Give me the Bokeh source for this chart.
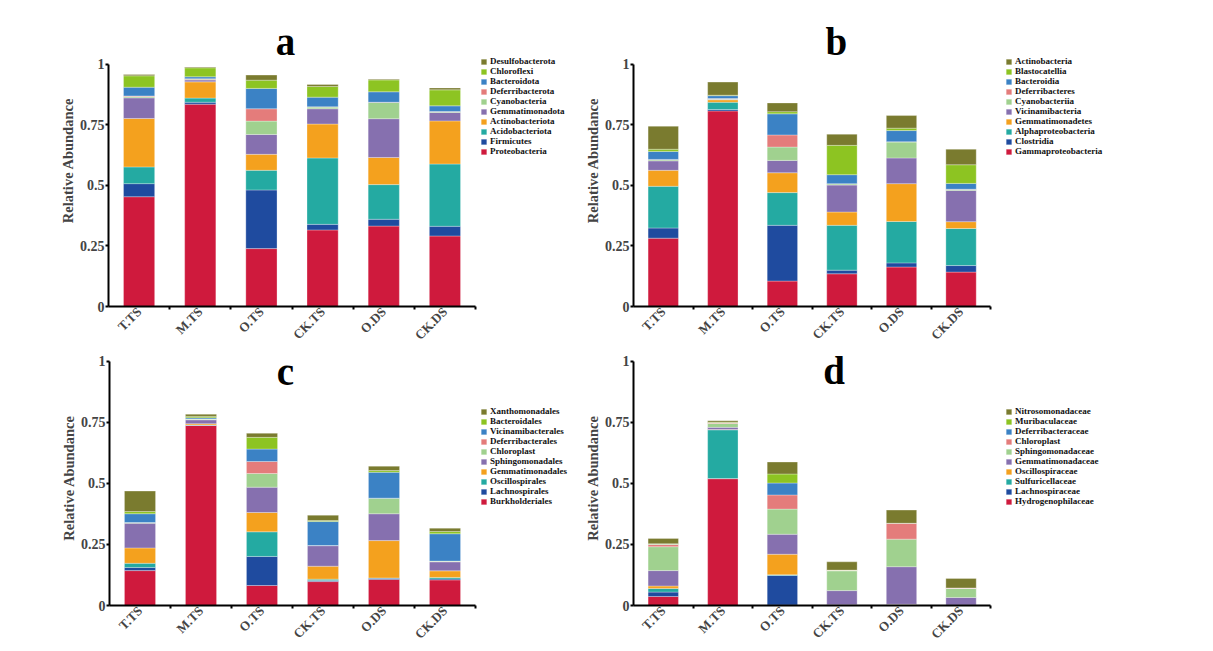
from math import pi
from bokeh.plotting import figure
from bokeh.models import (ColumnDataSource, Range1d, FixedTicker,
                          Legend, LegendItem, Label)
from bokeh.layouts import column, row
from bokeh.embed import file_html
from bokeh.resources import INLINE

samples = ["T.TS", "M.TS", "O.TS", "CK.TS", "O.DS", "CK.DS"]

colors = ["#CF1A3D", "#1F4B9F", "#24AAA2", "#F4A11E", "#8670AF",
          "#A0D18F", "#E47C7B", "#3B82C5", "#8DC422", "#7A7B2F"]

# ---- panel a : phylum (bottom -> top) ----
taxa_a = ["Proteobacteria", "Firmicutes", "Acidobacteriota", "Actinobacteriota",
          "Gemmatimonadota", "Cyanobacteria", "Deferribacterota", "Bacteroidota",
          "Chloroflexi", "Desulfobacterota"]
Proteobacteria = [0.453, 0.835, 0.239, 0.316, 0.332, 0.291]
Firmicutes = [0.054, 0.008, 0.242, 0.023, 0.028, 0.040]
Acidobacteriota = [0.069, 0.017, 0.081, 0.274, 0.143, 0.257]
Actinobacteriota = [0.200, 0.067, 0.066, 0.140, 0.112, 0.178]
Gemmatimonadota = [0.085, 0.008, 0.082, 0.063, 0.160, 0.035]
Cyanobacteria = [0.006, 0.003, 0.055, 0.007, 0.067, 0.003]
Deferribacterota = [0.002, 0.002, 0.051, 0.001, 0.001, 0.001]
Bacteroidota = [0.036, 0.008, 0.084, 0.040, 0.043, 0.023]
Chloroflexi = [0.047, 0.037, 0.034, 0.044, 0.049, 0.066]
Desulfobacterota = [0.005, 0.003, 0.021, 0.008, 0.003, 0.008]
values_a = [Proteobacteria, Firmicutes, Acidobacteriota, Actinobacteriota,
            Gemmatimonadota, Cyanobacteria, Deferribacterota, Bacteroidota,
            Chloroflexi, Desulfobacterota]

# ---- panel b : class ----
taxa_b = ["Gammaproteobacteria", "Clostridia", "Alphaproteobacteria", "Gemmatimonadetes",
          "Vicinamibacteria", "Cyanobacteriia", "Deferribacteres", "Bacteroidia",
          "Blastocatellia", "Actinobacteria"]
Gammaproteobacteria = [0.282, 0.807, 0.105, 0.135, 0.163, 0.142]
Clostridia = [0.042, 0.006, 0.230, 0.015, 0.017, 0.027]
Alphaproteobacteria = [0.172, 0.030, 0.135, 0.185, 0.171, 0.153]
Gemmatimonadetes = [0.066, 0.010, 0.082, 0.055, 0.156, 0.028]
Vicinamibacteria = [0.039, 0.002, 0.051, 0.111, 0.106, 0.129]
Cyanobacteriia = [0.005, 0.002, 0.055, 0.005, 0.066, 0.004]
Deferribacteres = [0.001, 0.001, 0.050, 0.001, 0.001, 0.001]
Bacteroidia = [0.033, 0.012, 0.087, 0.037, 0.046, 0.024]
Blastocatellia = [0.009, 0.002, 0.009, 0.121, 0.010, 0.077]
Actinobacteria = [0.095, 0.054, 0.036, 0.046, 0.052, 0.064]
values_b = [Gammaproteobacteria, Clostridia, Alphaproteobacteria, Gemmatimonadetes,
            Vicinamibacteria, Cyanobacteriia, Deferribacteres, Bacteroidia,
            Blastocatellia, Actinobacteria]

# ---- panel c : order ----
taxa_c = ["Burkholderiales", "Lachnospirales", "Oscillospirales", "Gemmatimonadales",
          "Sphingomonadales", "Chloroplast", "Deferribacterales", "Vicinamibacterales",
          "Bacteroidales", "Xanthomonadales"]
Burkholderiales = [0.143, 0.738, 0.082, 0.098, 0.107, 0.105]
Lachnospirales = [0.013, 0.001, 0.119, 0.004, 0.005, 0.004]
Oscillospirales = [0.017, 0.001, 0.101, 0.006, 0.001, 0.006]
Gemmatimonadales = [0.063, 0.005, 0.079, 0.053, 0.153, 0.027]
Sphingomonadales = [0.101, 0.016, 0.104, 0.084, 0.110, 0.037]
Chloroplast_c = [0.003, 0.003, 0.056, 0.001, 0.064, 0.003]
Deferribacterales = [0.000, 0.000, 0.049, 0.000, 0.000, 0.000]
Vicinamibacterales = [0.036, 0.005, 0.051, 0.098, 0.106, 0.112]
Bacteroidales = [0.009, 0.006, 0.048, 0.004, 0.007, 0.009]
Xanthomonadales = [0.084, 0.009, 0.017, 0.022, 0.018, 0.014]
values_c = [Burkholderiales, Lachnospirales, Oscillospirales, Gemmatimonadales,
            Sphingomonadales, Chloroplast_c, Deferribacterales, Vicinamibacterales,
            Bacteroidales, Xanthomonadales]

# ---- panel d : family ----
taxa_d = ["Hydrogenophilaceae", "Lachnospiraceae", "Sulfuricellaceae", "Oscillospiraceae",
          "Gemmatimonadaceae", "Sphingomonadaceae", "Chloroplast", "Deferribacteraceae",
          "Muribaculaceae", "Nitrosomonadaceae"]
Hydrogenophilaceae = [0.037, 0.520, 0.002, 0.001, 0.000, 0.000]
Lachnospiraceae = [0.018, 0.000, 0.121, 0.000, 0.004, 0.000]
Sulfuricellaceae = [0.015, 0.200, 0.003, 0.000, 0.000, 0.000]
Oscillospiraceae = [0.010, 0.001, 0.084, 0.002, 0.001, 0.002]
Gemmatimonadaceae = [0.063, 0.009, 0.082, 0.058, 0.154, 0.031]
Sphingomonadaceae = [0.098, 0.016, 0.103, 0.081, 0.113, 0.037]
Chloroplast_d = [0.009, 0.003, 0.058, 0.002, 0.065, 0.002]
Deferribacteraceae = [0.001, 0.000, 0.049, 0.000, 0.000, 0.000]
Muribaculaceae = [0.002, 0.002, 0.037, 0.001, 0.000, 0.000]
Nitrosomonadaceae = [0.022, 0.006, 0.049, 0.034, 0.054, 0.039]
values_d = [Hydrogenophilaceae, Lachnospiraceae, Sulfuricellaceae, Oscillospiraceae,
            Gemmatimonadaceae, Sphingomonadaceae, Chloroplast_d, Deferribacteraceae,
            Muribaculaceae, Nitrosomonadaceae]

y_ticks = [0, 0.25, 0.5, 0.75, 1]
y_tick_labels = {0: "0", 0.25: "0.25", 0.5: "0.5", 0.75: "0.75", 1: "1"}

FONT = "Liberation Serif"
N = len(samples)
centers = [i + 0.5 for i in range(N)]            # category centres on the x scale
bounds_ticks = [i + 1.0 for i in range(N)]       # category boundaries


def make_panel(letter, taxa, values, width, height, left, top, bottom,
               cat_px, y_end, title_pos, legend_pos):
    frame_w = width - left
    p = figure(x_range=Range1d(0, frame_w / cat_px), y_range=Range1d(0, y_end),
               width=width, height=height, output_backend="svg",
               toolbar_location=None, min_border_left=left, min_border_right=0,
               min_border_top=top, min_border_bottom=bottom)
    p.outline_line_color = None
    p.xgrid.visible = False
    p.ygrid.visible = False
    p.background_fill_color = "white"
    p.border_fill_color = "white"

    data = {"x": centers, "sample": samples}
    for t, v in zip(taxa, values):
        data[t] = v
    src = ColumnDataSource(data)
    rs = p.vbar_stack(taxa, x="x", width=0.51, color=colors, source=src,
                      line_color="white", line_width=0.6, line_alpha=0.5)

    items = [LegendItem(label=t, renderers=[r]) for t, r in zip(taxa, rs)][::-1]
    leg = Legend(items=items, location=legend_pos)
    leg.label_text_font = FONT
    leg.label_text_font_style = "bold"
    leg.label_text_font_size = "9px"
    leg.label_text_color = "#111111"
    leg.label_height = 8
    leg.label_standoff = 3
    leg.glyph_height = 7
    leg.glyph_width = 7
    leg.spacing = 0
    leg.padding = 2
    leg.margin = 0
    leg.border_line_color = None
    leg.background_fill_alpha = 0
    p.add_layout(leg)

    ya = p.yaxis[0]
    ya.bounds = (0, 1)
    ya.ticker = FixedTicker(ticks=y_ticks)
    ya.major_label_overrides = y_tick_labels
    ya.axis_label = "Relative Abundance"
    ya.axis_label_text_font = FONT
    ya.axis_label_text_font_style = "bold"
    ya.axis_label_text_font_size = "14.5px"
    ya.axis_label_standoff = 1
    ya.major_label_text_font = FONT
    ya.major_label_text_font_style = "bold"
    ya.major_label_text_font_size = "14px"
    ya.major_label_standoff = 1
    ya.axis_line_width = 2
    ya.major_tick_line_width = 2
    ya.major_tick_out = 3
    ya.major_tick_in = 0
    ya.minor_tick_line_color = None

    xa = p.xaxis[0]
    xa.bounds = (0, N)
    xa.ticker = FixedTicker(ticks=centers, minor_ticks=bounds_ticks)
    xa.major_label_overrides = dict(zip(centers, samples))
    xa.axis_line_width = 2
    xa.major_tick_line_color = None
    xa.major_tick_out = 0
    xa.major_tick_in = 0
    xa.minor_tick_line_width = 2
    xa.minor_tick_out = 3
    xa.minor_tick_in = 0
    xa.major_label_orientation = pi / 4
    xa.major_label_text_font = FONT
    xa.major_label_text_font_style = "bold"
    xa.major_label_text_font_size = "13px"
    xa.major_label_standoff = 0

    p.add_layout(Label(x=title_pos[0], y=title_pos[1], text=letter,
                       text_font=FONT, text_font_style="bold",
                       text_font_size="39px", text_align="center",
                       text_baseline="alphabetic", text_color="black"))
    return p


pa = make_panel("a", taxa_a, values_a, 581, 350, 108, 14, 42, 61.17, 1.205,
                (2.894, 1.094), (372, 150))
pb = make_panel("b", taxa_b, values_b, 632, 350, 46, 14, 42, 60.17, 1.205,
                (3.407, 1.094), (372, 150))
pc = make_panel("c", taxa_c, values_c, 581, 301, 109, 0, 46, 61.0, 1.045,
                (2.885, 0.959), (371, 99))
pd_ = make_panel("d", taxa_d, values_d, 632, 301, 46, 0, 46, 60.17, 1.045,
                 (3.37, 0.962), (372, 99))

layout = column(row(pa, pb), row(pc, pd_))
open("out.html", "w").write(file_html(layout, INLINE))
